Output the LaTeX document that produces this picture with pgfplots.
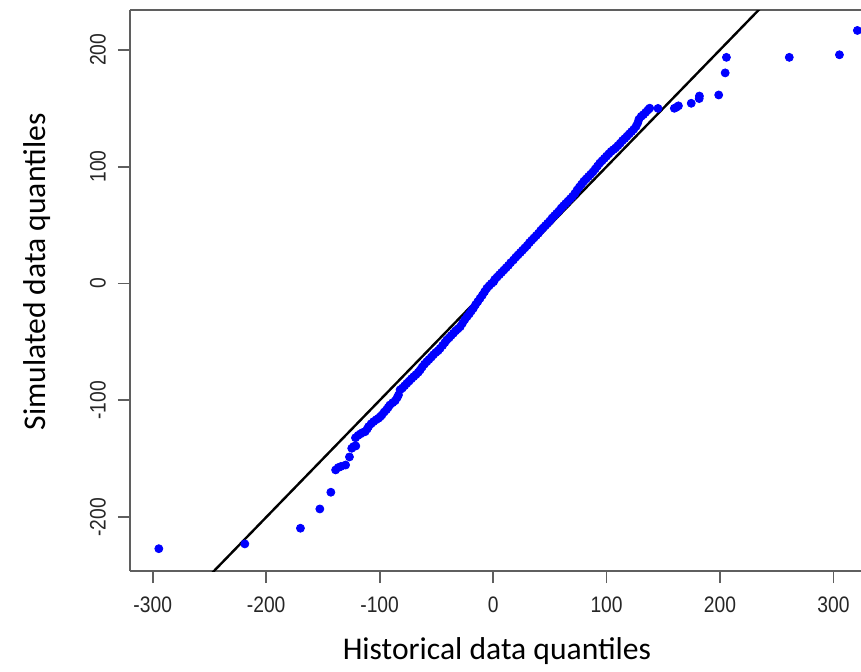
\documentclass[border=0pt]{standalone}
\usepackage{pgfplots}
\pgfplotsset{compat=1.18}
\usepackage{pgfplotstable}
\usepackage{fontspec}
\setmainfont{Carlito}
\newfontfamily\tickfont[FakeStretch=0.86]{Liberation Sans}
\definecolor{axgray}{RGB}{95,95,95}
\definecolor{ptblue}{RGB}{0,0,255}

% quantile pairs (historical, simulated)
\pgfplotstableread{
x y
-294.6 -226.9
-218.8 -222.8
-169.8 -209.4
-152.7 -192.9
-143.0 -178.6
-138.8 -159.5
-136.5 -157.5
-134.0 -156.5
-130.0 -155.3
-126.6 -148.4
-124.6 -141.0
-123.0 -139.5
-121.0 -139.0
-121.3 -132.0
-119.0 -130.0
-117.0 -128.7
-115.0 -127.5
-112.8 -126.8
-111.0 -124.5
-109.8 -122.5
-107.5 -120.0
-105.4 -118.2
-103.0 -116.5
-101.0 -115.3
-99.5 -114.0
-98.0 -112.5
-96.0 -110.0
-94.0 -108.0
-92.5 -106.0
-91.0 -104.0
-88.5 -102.0
-86.3 -100.3
-84.5 -97.5
-83.4 -95.4
-82.0 -91.0
-80.0 -89.5
-78.0 -87.5
-76.0 -85.4
-74.0 -83.5
-72.0 -81.5
-70.0 -79.7
-68.0 -78.0
-66.0 -76.0
-64.3 -74.0
-62.5 -71.5
-60.5 -69.0
-58.4 -66.9
-56.5 -65.0
-54.5 -63.0
-52.6 -61.0
-50.5 -59.0
-48.5 -57.5
-46.7 -55.5
-44.5 -53.0
-42.5 -50.5
-40.8 -48.3
-38.8 -46.5
-37.0 -44.5
-35.0 -42.6
-33.0 -40.5
-31.0 -38.8
-29.0 -37.0
-27.0 -34.0
-25.0 -31.0
-23.0 -28.4
-21.0 -26.0
-19.2 -23.5
-17.4 -21.2
-15.5 -18.2
-13.5 -15.5
-11.5 -12.7
-9.5 -10.0
-7.5 -7.0
-5.5 -4.1
-3.5 -2.0
-1.5 0.0
0.5 1.5
1.5 3.5
3.5 5.5
5.5 7.5
7.5 9.5
9.5 11.5
11.5 13.5
13.5 15.5
15.5 17.8
17.9 20.1
20.0 22.5
22.0 24.5
24.0 26.5
26.0 28.5
28.0 30.5
30.0 32.5
32.0 35.0
34.0 37.0
36.0 39.0
38.0 41.0
40.0 43.0
42.0 45.5
44.0 47.5
46.0 49.5
48.0 51.5
50.0 53.5
52.0 56.0
54.0 58.0
56.0 60.0
58.0 62.0
60.0 64.5
62.0 66.5
64.0 68.5
66.0 70.5
68.0 72.5
70.0 74.5
72.0 77.0
74.0 80.0
76.0 82.5
78.0 85.0
80.0 87.5
82.0 89.5
84.0 91.5
86.0 93.5
88.0 95.5
90.0 98.0
92.0 100.5
94.0 103.0
96.0 105.0
98.0 107.0
100.0 109.0
102.0 111.0
104.0 113.0
106.0 114.5
108.0 116.0
110.0 118.0
112.0 120.0
114.0 122.3
116.0 124.0
118.0 126.0
120.0 128.0
122.0 130.0
124.0 132.0
126.0 134.5
127.5 137.5
128.5 140.5
130.5 143.0
132.5 144.5
134.5 146.5
136.5 148.5
138.0 150.0
145.3 149.8
159.7 149.9
161.5 150.8
163.3 152.0
174.6 154.2
181.6 158.2
181.8 160.4
198.8 161.3
204.5 180.2
205.6 193.5
261.0 193.5
305.2 195.7
321.0 216.5
}\simdata

\begin{document}
\begin{tikzpicture}
\begin{axis}[
    at={(0,0)}, anchor=south west,
    scale only axis, width=365.5pt, height=280.5pt,
    xmin=-320, xmax=324.2, ymin=-246, ymax=234,
    axis y line*=left,
    axis line style={axgray, line width=1pt},
    tick pos=left, tick align=outside,
    major tick length=6pt,
    tick style={axgray, line width=0.9pt},
    xtick={-300,-200,-100,0,100,200,300},
    xticklabels={-300,-200,-100,0,100,200,300},
    ytick={-200,-100,0,100,200},
    yticklabels={-200,-100,0,100,200},
    xticklabel shift=3.5pt, yticklabel shift=2.5pt,
    xticklabel style={font=\tickfont\fontsize{11.2}{13}\selectfont, text=black!85},
    yticklabel style={font=\tickfont\fontsize{11.2}{13}\selectfont, text=black!85,
                      rotate=90, anchor=south},
    xlabel={Historical data quantiles},
    ylabel={Simulated data quantiles},
    label style={font=\fontsize{15.8}{19}\selectfont},
    xlabel style={at={(axis description cs:0.502,-0.1586)}, anchor=base},
    ylabel style={at={(axis description cs:-0.115,0.533)}, anchor=base},
  ]
\addplot[black, line width=1.2pt] coordinates {(-260,-260) (250,250)};
\addplot[only marks, mark=*, mark size=2pt,
         mark options={draw=ptblue, fill=ptblue}] table {\simdata};
\end{axis}
\pgfresetboundingbox
\path[use as bounding box] (-65pt,-50pt) rectangle (365.5pt,285.5pt);
\end{tikzpicture}
\end{document}
